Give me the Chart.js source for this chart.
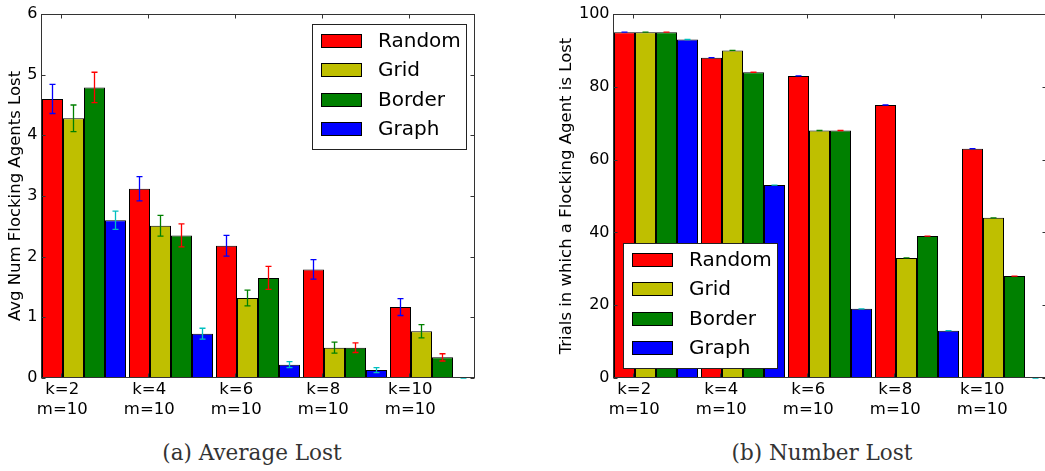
<!DOCTYPE html>
<html>
<head>
<meta charset="utf-8">
<script src="https://cdn.jsdelivr.net/npm/chart.js@4.4.1/dist/chart.umd.min.js"></script>
<style>
  html, body { margin: 0; padding: 0; background: #fff; overflow: hidden; width: 1045px; height: 471px; }
  canvas { position: absolute; top: 0; }
  #avgChart { left: 0; }
  #numChart { left: 520px; }
  .caption { position: absolute; top: 442px; font-family: "DejaVu Serif"; font-size: 21.5px; line-height: 1; color: #333; white-space: nowrap; transform: translateX(-50%); }
</style>
</head>
<body>
<canvas id="avgChart" width="520" height="420"></canvas>
<canvas id="numChart" width="530" height="420"></canvas>
<div class="caption" style="left:252px">(a) Average Lost</div>
<div class="caption" style="left:822px">(b) Number Lost</div>

<script>
/* =========================
   DATA
========================= */
const categories = [["k=2", "m=10"], ["k=4", "m=10"], ["k=6", "m=10"], ["k=8", "m=10"], ["k=10", "m=10"]];
const seriesNames = ["Random", "Grid", "Border", "Graph"];

// (a) average number of flocking agents lost, with error bars
const avgRandom = [4.60, 3.12, 2.18, 1.79, 1.17];
const avgGrid   = [4.28, 2.51, 1.32, 0.50, 0.77];
const avgBorder = [4.79, 2.35, 1.65, 0.50, 0.34];
const avgGraph  = [2.60, 0.73, 0.22, 0.13, 0.00];
const errRandom = [0.24, 0.20, 0.17, 0.16, 0.14];
const errGrid   = [0.22, 0.17, 0.13, 0.09, 0.11];
const errBorder = [0.25, 0.19, 0.19, 0.08, 0.06];
const errGraph  = [0.15, 0.09, 0.05, 0.04, 0.00];
const avgTicks  = [0, 1, 2, 3, 4, 5, 6];

// (b) trials in which a flocking agent is lost
const numRandom = [95, 88, 83, 75, 63];
const numGrid   = [95, 90, 68, 33, 44];
const numBorder = [95, 84, 68, 39, 28];
const numGraph  = [93, 53, 19, 13, 0];
const numErr    = [0, 0, 0, 0, 0];
const numTicks  = [0, 20, 40, 60, 80, 100];

/* =========================
   STYLE
========================= */
const barColors = ["#ff0000", "#bfbf00", "#008000", "#0000ff"];
const errColors = ["#0000ff", "#008000", "#ff0000", "#00bfbf"];
const tickOffset = 0.25;
const groupFill = 84 / 87; // four 21px bars in an 87px slot

Chart.defaults.font.family = "DejaVu Sans";
Chart.defaults.color = "#000";

/* =========================
   PLUGINS
========================= */
const errorBars = {
  id: "errorBars",
  afterDatasetsDraw(chart) {
    const { ctx, scales } = chart;
    ctx.save();
    ctx.lineWidth = 1.3;
    chart.data.datasets.forEach((ds, i) => {
      const meta = chart.getDatasetMeta(i);
      ctx.strokeStyle = ds.errColor;
      meta.data.forEach((bar, j) => {
        const v = ds.data[j], e = ds.errors[j];
        const y1 = scales.y.getPixelForValue(v + e);
        const y2 = scales.y.getPixelForValue(v - e);
        const x = Math.floor(bar.x) + 0.5;
        ctx.beginPath();
        ctx.moveTo(x, y1); ctx.lineTo(x, y2);
        ctx.moveTo(x - 3, y1); ctx.lineTo(x + 3, y1);
        ctx.moveTo(x - 3, y2); ctx.lineTo(x + 3, y2);
        ctx.stroke();
      });
    });
    ctx.restore();
  }
};

const frame = {
  id: "frame",
  afterDatasetsDraw(chart) {
    const { ctx, chartArea: a, scales } = chart;
    const l = Math.ceil(a.left) + 0.5, r = Math.floor(a.right) - 0.5;
    const t = Math.round(a.top) + 0.5, b = Math.round(a.bottom) - 0.5;
    ctx.save();
    ctx.strokeStyle = "#333";
    ctx.lineWidth = 1;
    ctx.strokeRect(l, t, r - l, b - t);
    ctx.beginPath();
    scales.y.ticks.forEach(tk => {
      const y = Math.round(scales.y.getPixelForValue(tk.value)) + 0.5;
      ctx.moveTo(l, y); ctx.lineTo(l + 4, y);
      ctx.moveTo(r, y); ctx.lineTo(r - 4, y);
    });
    scales.x2.ticks.forEach(tk => {
      const x = Math.round(scales.x2.getPixelForValue(tk.value)) - 0.5;
      ctx.moveTo(x, t); ctx.lineTo(x, t + 4);
      ctx.moveTo(x, b); ctx.lineTo(x, b - 4);
    });
    ctx.stroke();
    ctx.restore();
  }
};

const boxLegend = {
  id: "boxLegend",
  afterDraw(chart, args, opts) {
    const { ctx, chartArea: a } = chart;
    const w = 154, h = 125;
    const x = Math.round(opts.corner === "tr" ? a.right - 10 - w : a.left + 10);
    const y = Math.round(opts.corner === "tr" ? a.top + 10 : a.bottom - 10 - h);
    ctx.save();
    ctx.fillStyle = "#fff";
    ctx.fillRect(x, y, w, h);
    ctx.strokeStyle = "#222";
    ctx.lineWidth = 1;
    ctx.strokeRect(x + 0.5, y + 0.5, w, h);
    ctx.font = "20px 'DejaVu Sans'";
    ctx.textBaseline = "middle";
    chart.data.datasets.forEach((ds, i) => {
      const cy = Math.round(y + 17 + i * 29.4);
      ctx.fillStyle = ds.backgroundColor;
      ctx.fillRect(x + 9, cy - 7, 41, 14);
      ctx.strokeStyle = "#000";
      ctx.strokeRect(x + 9.5, cy - 6.5, 40, 13);
      ctx.fillStyle = "#000";
      ctx.fillText(ds.label, x + 66, cy + 1);
    });
    ctx.restore();
  }
};

/* =========================
   CHARTS
========================= */
function makeChart(id, values, errors, yTicks, yTitle, yWidth, titlePad, padRight, corner) {
  const ctx = document.getElementById(id).getContext("2d");
  return new Chart(ctx, {
    type: "bar",
    data: {
      labels: categories,
      datasets: seriesNames.map((name, i) => ({
        label: name,
        data: values[i],
        errors: errors[i],
        errColor: errColors[i],
        xAxisID: "x",
        backgroundColor: barColors[i],
        borderColor: "#000",
        borderWidth: 1,
        inflateAmount: 0,
        categoryPercentage: groupFill,
        barPercentage: 1
      }))
    },
    options: {
      responsive: false,
      animation: false,
      layout: { padding: { top: 14, right: padRight, bottom: 0, left: 0 } },
      plugins: { legend: { display: false }, tooltip: { enabled: false }, boxLegend: { corner } },
      scales: {
        x: { display: false },
        x2: {
          type: "linear",
          position: "bottom",
          offset: false,
          bounds: "data",
          min: 0,
          max: 5,
          afterBuildTicks: s => { s.ticks = categories.map((c, i) => ({ value: i + tickOffset })); },
          ticks: { callback: (v, i) => categories[i], autoSkip: false, maxRotation: 0, padding: 2, font: { size: 16.5 } },
          grid: { display: false, drawTicks: false, offset: false },
          border: { display: false },
          afterFit: s => { s.height = 42; }
        },
        y: {
          min: yTicks[0],
          max: yTicks[yTicks.length - 1],
          afterBuildTicks: s => { s.ticks = yTicks.map(v => ({ value: v })); },
          ticks: { padding: 3, font: { size: 16 } },
          grid: { display: false, drawTicks: false },
          border: { display: false },
          title: { display: true, text: yTitle, font: { size: 16.5 }, padding: { top: titlePad, bottom: 0 } },
          afterFit: s => { s.width = yWidth; }
        }
      }
    },
    plugins: [errorBars, frame, boxLegend]
  });
}

makeChart("avgChart",
  [avgRandom, avgGrid, avgBorder, avgGraph],
  [errRandom, errGrid, errBorder, errGraph],
  avgTicks, "Avg Num Flocking Agents Lost", 40.5, 6, 44.5, "tr");

makeChart("numChart",
  [numRandom, numGrid, numBorder, numGraph],
  [numErr, numErr, numErr, numErr],
  numTicks, "Trials in which a Flocking Agent is Lost", 92.5, 37, 2.5, "bl");
</script>
</body>
</html>
